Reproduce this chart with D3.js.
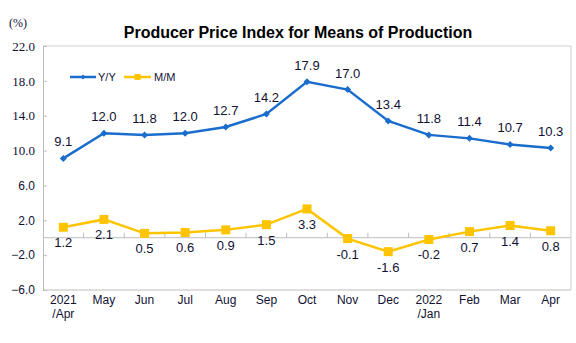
<!DOCTYPE html>
<html><head><meta charset="utf-8">
<script src="https://cdn.jsdelivr.net/npm/d3@7"></script>
<style>body{margin:0;background:#fff}svg{display:block}</style>
</head><body>
<svg id="c" width="576" height="343"></svg>
<script>
const categories = ["2021\n/Apr","May","Jun","Jul","Aug","Sep","Oct","Nov","Dec","2022\n/Jan","Feb","Mar","Apr"];
const yoy = [9.1,12.0,11.8,12.0,12.7,14.2,17.9,17.0,13.4,11.8,11.4,10.7,10.3];
const mom = [1.2,2.1,0.5,0.6,0.9,1.5,3.3,-0.1,-1.6,-0.2,0.7,1.4,0.8];
const yTicks = [22,18,14,10,6,2,-2,-6];
const seriesNames = ["Y/Y","M/M"];

const svg = d3.select("#c");
const L=43,R=571,T=46,B=290;
const blue="#1a6dcc", yellow="#ffc400", txt="#111133", axisC="#bdbdbd";
const x = d3.scaleBand().domain(d3.range(categories.length)).range([L,R]);
const y = d3.scaleLinear().domain([-6,22]).range([B,T]);
const cx = i => x(i)+x.bandwidth()/2;

// frame
svg.append("path").attr("d",`M${L},${T}H${R}V${B}`).attr("fill","none").attr("stroke","#cfcfcf").attr("stroke-width",1);
// left axis
const ya = svg.append("g").attr("transform",`translate(${L},0)`).call(d3.axisLeft(y).tickValues(yTicks).tickSize(-4).tickPadding(8).tickFormat(d3.format(".1f")));
ya.select(".domain").attr("stroke",axisC);
ya.selectAll(".tick line").attr("stroke",axisC);
ya.selectAll(".tick text").attr("fill",txt).attr("font-size",12)
  .attr("font-family",d=>d>=10?"Liberation Serif, serif":"Liberation Sans, Arial, sans-serif")
  .attr("font-size",d=>d>=10?13:12);
svg.append("line").attr("x1",L).attr("x2",R).attr("y1",B).attr("y2",B).attr("stroke",axisC);
// zero line with ticks
const y0=y(0);
svg.append("line").attr("x1",L).attr("x2",R).attr("y1",y0).attr("y2",y0).attr("stroke",axisC);
svg.selectAll(".zt").data(d3.range(1,categories.length)).join("line")
  .attr("x1",i=>x(i)).attr("x2",i=>x(i)).attr("y1",y0).attr("y2",y0-5).attr("stroke",axisC);

// x labels
const xl = svg.selectAll(".xl").data(categories).join("text")
  .attr("x",(d,i)=>cx(i)).attr("y",304).attr("text-anchor","middle")
  .attr("font-family","Liberation Sans, Arial, sans-serif").attr("font-size",12).attr("fill",txt);
xl.each(function(d){const s=d.split("\n");const t=d3.select(this);
  s.forEach((p,k)=>t.append("tspan").attr("x",t.attr("x")).attr("dy",k?14:0).text(p));});

// title
svg.append("text").attr("x",298).attr("y",38).attr("text-anchor","middle")
  .attr("font-family","Liberation Sans, Arial, sans-serif").attr("font-weight","bold").attr("font-size",16).attr("fill","#000")
  .text("Producer Price Index for Means of Production");
svg.append("text").attr("x",9).attr("y",27).attr("font-family","Liberation Serif, serif").attr("font-size",12).attr("fill",txt).text("(%)");

const line = d3.line().x((d,i)=>cx(i)).y(d=>y(d));
// M/M
svg.append("path").datum(mom).attr("d",line).attr("fill","none").attr("stroke",yellow).attr("stroke-width",2.5);
svg.selectAll(".mm").data(mom).join("rect").attr("x",(d,i)=>cx(i)-4.5).attr("y",d=>y(d)-4.5).attr("width",9).attr("height",9).attr("fill",yellow);
svg.selectAll(".mml").data(mom).join("text").attr("x",(d,i)=>cx(i)).attr("y",d=>y(d)+20).attr("text-anchor","middle")
  .attr("font-family","Liberation Sans, Arial, sans-serif").attr("font-size",13).attr("fill",txt).text(d=>d.toFixed(1));
// Y/Y
svg.append("path").datum(yoy).attr("d",line).attr("fill","none").attr("stroke",blue).attr("stroke-width",2.5);
const dia = s=>`M0,${-s}L${s},0L0,${s}L${-s},0Z`;
svg.selectAll(".yy").data(yoy).join("path").attr("transform",(d,i)=>`translate(${cx(i)},${y(d)})`).attr("d",dia(3.5)).attr("fill",blue);
svg.selectAll(".yyl").data(yoy).join("text").attr("x",(d,i)=>cx(i)).attr("y",d=>y(d)-12).attr("text-anchor","middle")
  .attr("font-family","Liberation Sans, Arial, sans-serif").attr("font-size",13).attr("fill",txt).text(d=>d.toFixed(1));

// legend
const lg = svg.append("g").attr("font-family","Liberation Sans, Arial, sans-serif").attr("font-size",11).attr("fill",txt);
lg.append("line").attr("x1",70).attr("x2",96).attr("y1",77).attr("y2",77).attr("stroke",blue).attr("stroke-width",2.5);
lg.append("path").attr("transform","translate(83,77)").attr("d",dia(2.5)).attr("fill",blue);
lg.append("text").attr("x",98).attr("y",81).text(seriesNames[0]);
lg.append("line").attr("x1",124).attr("x2",151).attr("y1",77).attr("y2",77).attr("stroke",yellow).attr("stroke-width",2.5);
lg.append("rect").attr("x",134.5).attr("y",74).attr("width",6).attr("height",6).attr("fill",yellow);
lg.append("text").attr("x",154).attr("y",81).text(seriesNames[1]);
</script>
</body></html>
